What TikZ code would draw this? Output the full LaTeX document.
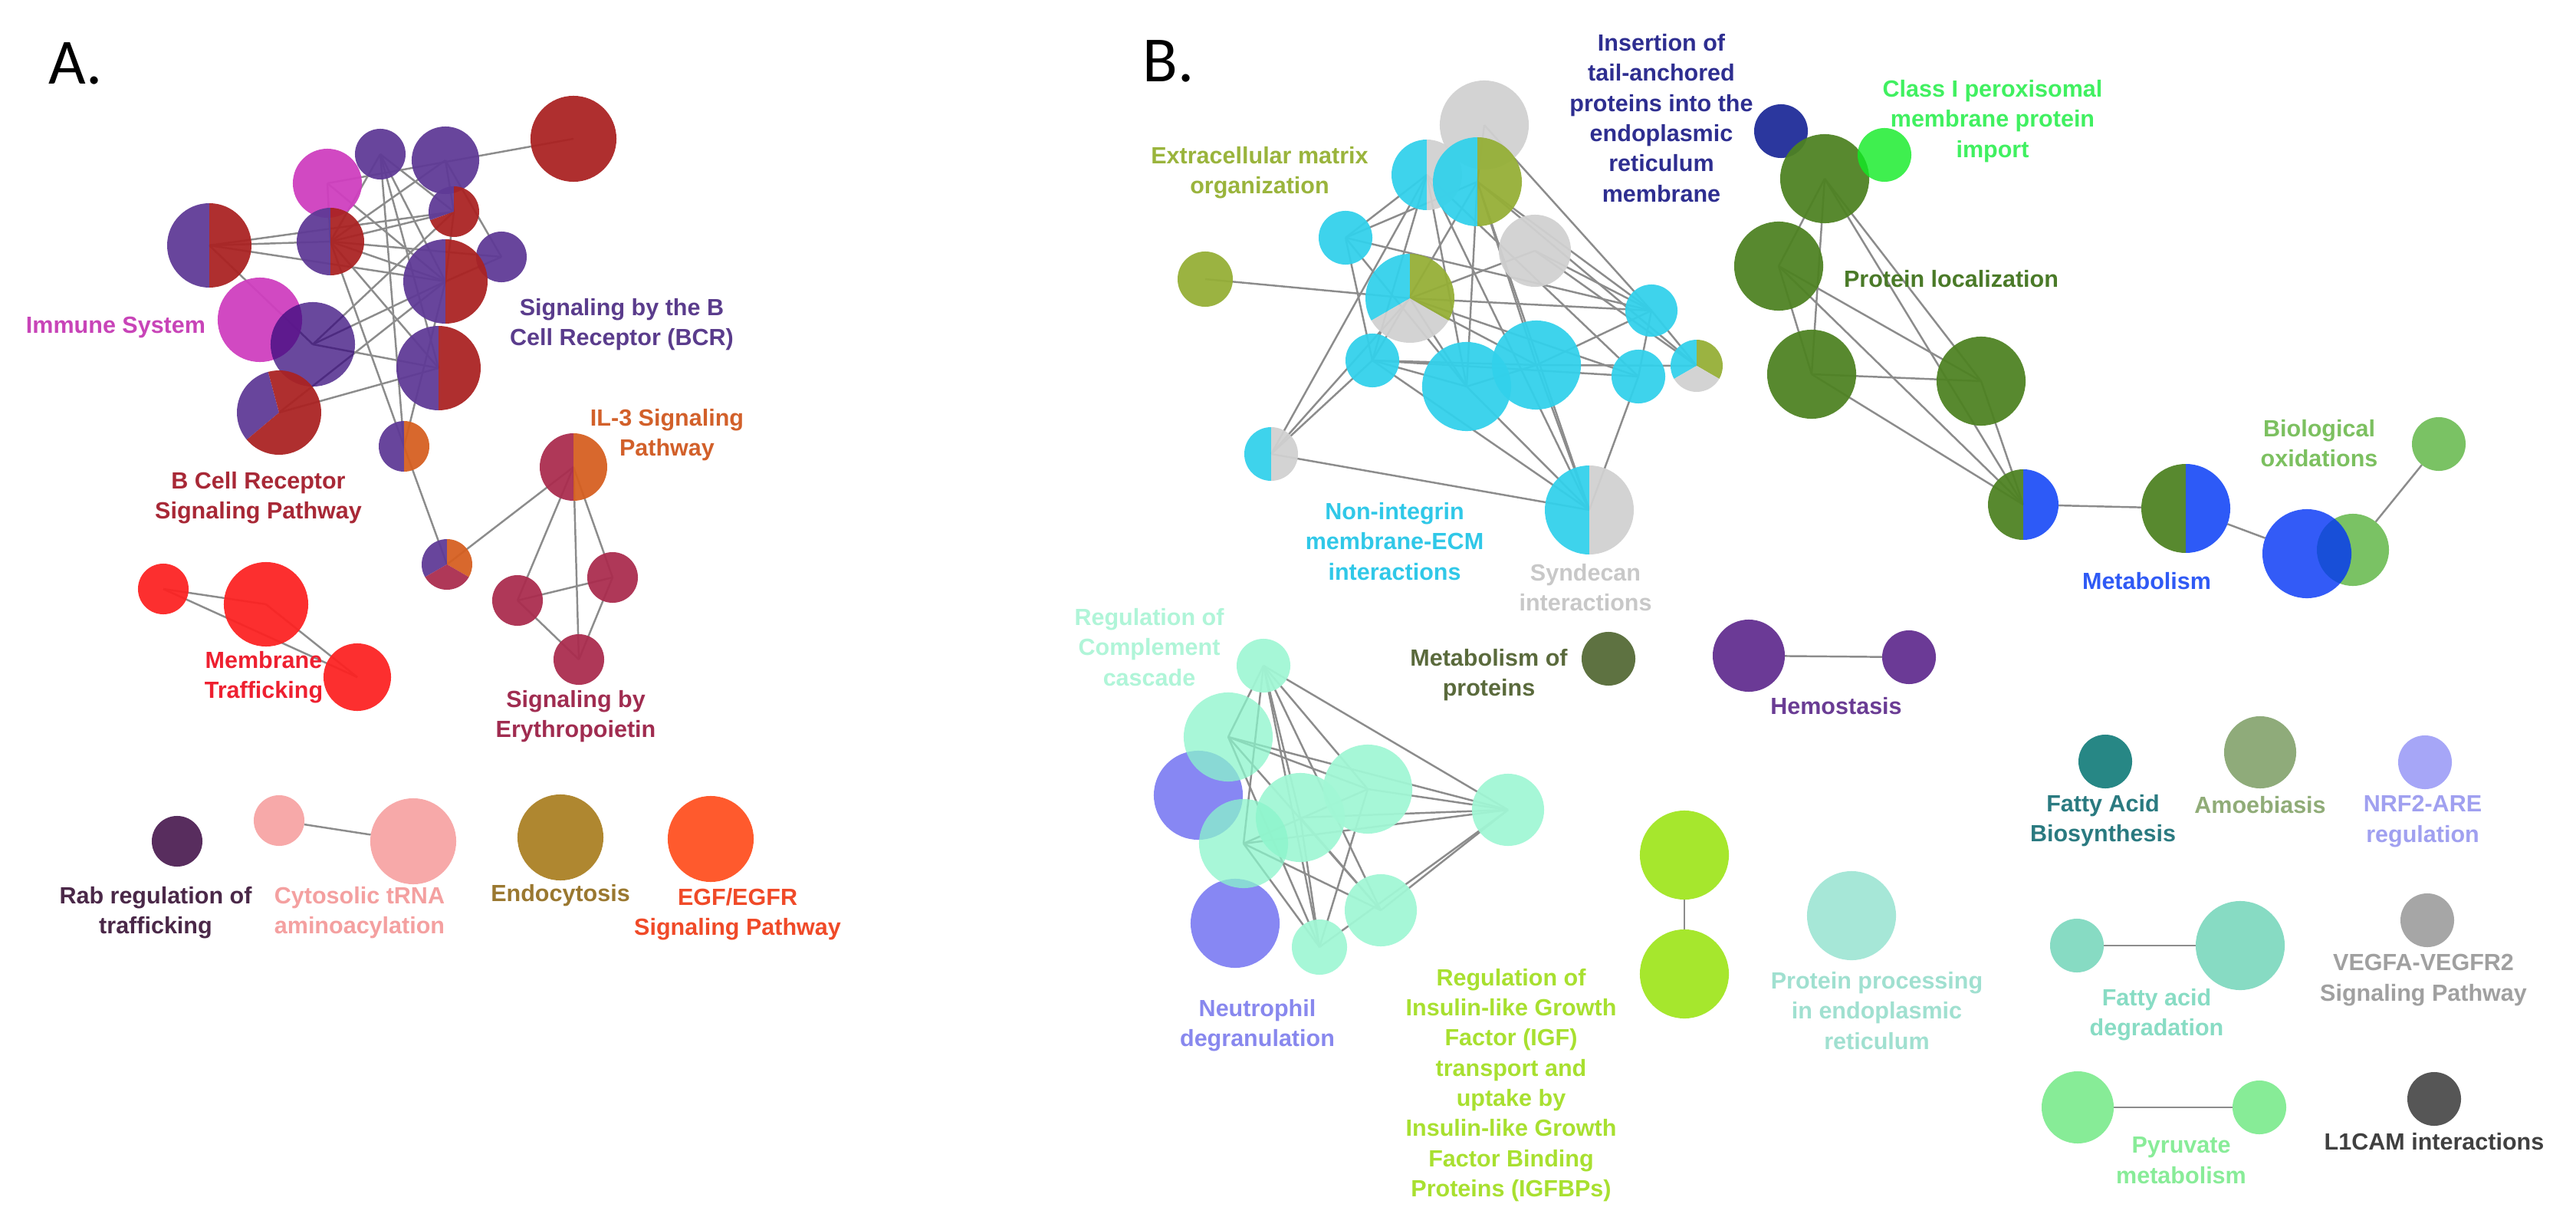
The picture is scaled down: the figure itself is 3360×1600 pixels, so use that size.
\documentclass[tikz,border=0pt]{standalone}
\usepackage{fontspec}
\setmainfont{Liberation Sans}
\newfontfamily\panelfont{Carlito}
\pgfdeclarelayer{paperlayer}
\pgfdeclarelayer{edgelayer}
\pgfsetlayers{paperlayer,edgelayer,main}
% node fills
\definecolor{cPur}{RGB}{95,58,150}
\definecolor{cPurT}{RGB}{56,11,125}
\definecolor{cRed}{RGB}{170,34,34}
\definecolor{cMag}{RGB}{207,62,191}
\definecolor{cOra}{RGB}{214,95,32}
\definecolor{cCri}{RGB}{170,44,78}
\definecolor{cBrRed}{RGB}{252,34,34}
\definecolor{cRab}{RGB}{78,32,84}
\definecolor{cPink}{RGB}{247,164,164}
\definecolor{cEndo}{RGB}{170,128,36}
\definecolor{cEgf}{RGB}{255,80,32}
\definecolor{cCyan}{RGB}{50,209,235}
\definecolor{cGray}{RGB}{209,209,209}
\definecolor{cOlive}{RGB}{149,175,54}
\definecolor{cDGreen}{RGB}{78,130,34}
\definecolor{cBlue}{RGB}{32,80,247}
\definecolor{cBlueT}{RGB}{0,51,246}
\definecolor{cDBlue}{RGB}{30,43,152}
\definecolor{cBrGreenT}{RGB}{16,236,36}
\definecolor{cLGreen}{RGB}{114,191,91}
\definecolor{cMoP}{RGB}{84,106,54}
\definecolor{cHem}{RGB}{98,46,144}
\definecolor{cMint}{RGB}{161,247,213}
\definecolor{cMintT}{RGB}{139,245,203}
\definecolor{cNeu}{RGB}{128,128,243}
\definecolor{cIgf}{RGB}{161,230,32}
\definecolor{cPP}{RGB}{161,230,213}
\definecolor{cFab}{RGB}{26,128,126}
\definecolor{cAmo}{RGB}{136,166,114}
\definecolor{cNrf}{RGB}{161,161,247}
\definecolor{cFad}{RGB}{128,217,192}
\definecolor{cVeg}{RGB}{161,161,161}
\definecolor{cPyr}{RGB}{128,235,145}
\definecolor{cL1}{RGB}{76,76,76}
\definecolor{cEdge}{RGB}{140,140,140}
% label colours
\definecolor{tImm}{RGB}{200,68,184}
\definecolor{tBcr}{RGB}{90,60,140}
\definecolor{tIl}{RGB}{210,96,42}
\definecolor{tBcrp}{RGB}{168,40,54}
\definecolor{tMem}{RGB}{238,32,48}
\definecolor{tEpo}{RGB}{160,44,80}
\definecolor{tRab}{RGB}{74,40,72}
\definecolor{tCyt}{RGB}{244,160,160}
\definecolor{tEndo}{RGB}{154,120,48}
\definecolor{tEgf}{RGB}{240,74,40}
\definecolor{tEcm}{RGB}{154,180,60}
\definecolor{tIns}{RGB}{46,46,144}
\definecolor{tCls}{RGB}{64,240,96}
\definecolor{tPL}{RGB}{74,122,40}
\definecolor{tNI}{RGB}{48,200,232}
\definecolor{tSyn}{RGB}{200,200,200}
\definecolor{tMet}{RGB}{47,90,245}
\definecolor{tBio}{RGB}{124,192,96}
\definecolor{tComp}{RGB}{176,245,216}
\definecolor{tMoP}{RGB}{90,106,60}
\definecolor{tHem}{RGB}{106,60,148}
\definecolor{tFab}{RGB}{42,122,128}
\definecolor{tAmo}{RGB}{144,172,120}
\definecolor{tNrf}{RGB}{160,160,240}
\definecolor{tNeu}{RGB}{136,136,238}
\definecolor{tIgf}{RGB}{168,224,48}
\definecolor{tPP}{RGB}{160,224,208}
\definecolor{tFad}{RGB}{136,220,196}
\definecolor{tVeg}{RGB}{160,160,160}
\definecolor{tPyr}{RGB}{136,236,152}
\definecolor{tL1}{RGB}{64,64,64}
\newcommand\lblfont{\bfseries\fontsize{8.68pt}{11.2pt}\selectfont}
\newcommand\pieslice[5]{\fill[#5,fill opacity=0.94] (#1.center) -- ++(#3:#2) arc[start angle=#3,end angle=#4,radius=#2] -- cycle;}
\tikzset{
  dot/.style 2 args={circle,inner sep=0pt,outer sep=0pt,minimum size=#1*0.02cm,fill=#2,fill opacity=0.94},
  pienode/.style={circle,inner sep=0pt,outer sep=0pt,minimum size=#1*0.02cm},
  lbl/.style={align=center,inner sep=0pt,font=\lblfont,text=#1},
  edge/.style={draw=cEdge,line width=0.7pt},
  panel/.style={anchor=base west,inner sep=0pt,font=\panelfont\fontsize{23.9pt}{28pt}\selectfont}
}
\begin{document}
\begin{tikzpicture}[x=0.01cm,y=-0.01cm]
\useasboundingbox (0,0) rectangle (3360,1600);
\begin{pgfonlayer}{paperlayer}
\fill[white] (0,0) rectangle (3360,1600);
\end{pgfonlayer}
\node[panel] (pA) at (63,110) {A.};
\node[panel] (pB) at (1490,107) {B.};
% ---------- Panel A ----------
\node[dot={45}{cMag}] (a4) at (427,239) {};
\node[dot={33}{cPur}] (a2) at (496,201) {};
\node[dot={44}{cPur}] (a3) at (581,209) {};
\node[dot={56}{cRed}] (a1) at (748,181) {};
\node[pienode=33] (a7) at (592,276) {};
\pieslice{a7}{33}{160}{270}{cPur}\pieslice{a7}{33}{270}{520}{cRed}
\node[pienode=55] (a5) at (273,320) {};
\pieslice{a5}{55}{90}{270}{cPur}\pieslice{a5}{55}{-90}{90}{cRed}
\node[pienode=44] (a6) at (431,315) {};
\pieslice{a6}{44}{90}{270}{cPur}\pieslice{a6}{44}{-90}{90}{cRed}
\node[dot={33}{cPur}] (a8) at (654,335) {};
\node[pienode=55] (a9) at (581,367) {};
\pieslice{a9}{55}{90}{270}{cPur}\pieslice{a9}{55}{-90}{90}{cRed}
\node[dot={55}{cMag}] (a10) at (339,417) {};
\node[dot={55}{cPurT},fill opacity=0.75] (a11) at (408,449) {};
\node[pienode=55] (a12) at (572,480) {};
\pieslice{a12}{55}{90}{270}{cPur}\pieslice{a12}{55}{-90}{90}{cRed}
\node[pienode=55] (a13) at (364,538) {};
\pieslice{a13}{55}{140}{255}{cPur}\pieslice{a13}{55}{255}{500}{cRed}
\node[pienode=33] (a14) at (527,582) {};
\pieslice{a14}{33}{90}{270}{cPur}\pieslice{a14}{33}{-90}{90}{cOra}
\node[pienode=44] (a15) at (748,609) {};
\pieslice{a15}{44}{90}{270}{cCri}\pieslice{a15}{44}{-90}{90}{cOra}
\node[pienode=33] (a16) at (583,736) {};
\pieslice{a16}{33}{150}{270}{cPur}\pieslice{a16}{33}{270}{390}{cOra}\pieslice{a16}{33}{30}{150}{cCri}
\node[dot={33}{cCri}] (a17) at (799,753) {};
\node[dot={33}{cCri}] (a18) at (675,783) {};
\node[dot={33}{cCri}] (a19) at (755,860) {};
\node[dot={33}{cBrRed}] (a20) at (213,768) {};
\node[dot={55}{cBrRed}] (a21) at (347,788) {};
\node[dot={44}{cBrRed}] (a22) at (466,883) {};
\node[dot={33}{cRab}] (a23) at (231,1097) {};
\node[dot={33}{cPink}] (a24) at (364,1070) {};
\node[dot={56}{cPink}] (a25) at (539,1097) {};
\node[dot={56}{cEndo}] (a26) at (731,1092) {};
\node[dot={56}{cEgf}] (a27) at (927,1094) {};
% labels A
\node[lbl=tImm] (lImm) at (151,427) {Immune System};
\node[lbl=tBcr] (lBcr) at (811,423) {Signaling by the B\\Cell Receptor (BCR)};
\node[lbl=tIl] (lIl) at (870,567) {IL-3 Signaling\\Pathway};
\node[lbl=tBcrp] (lBcrp) at (337,649) {B Cell Receptor\\Signaling Pathway};
\node[lbl=tMem] (lMem) at (344,883) {Membrane\\Trafficking};
\node[lbl=tEpo] (lEpo) at (751,934) {Signaling by\\Erythropoietin};
\node[lbl=tRab] (lRab) at (203,1190) {Rab regulation of\\trafficking};
\node[lbl=tCyt] (lCyt) at (469,1190) {Cytosolic tRNA\\aminoacylation};
\node[lbl=tEndo] (lEndo) at (731,1168) {Endocytosis};
\node[lbl=tEgf] (lEgf) at (962,1192) {EGF/EGFR\\Signaling Pathway};
% ---------- Panel B: ECM cluster ----------
\node[dot={58}{cGray}] (b1) at (1936,163) {};
\node[pienode=46] (b2) at (1861,228) {};
\pieslice{b2}{46}{90}{270}{cCyan}\pieslice{b2}{46}{-90}{90}{cGray}
\node[pienode=58] (b3) at (1927,237) {};
\pieslice{b3}{58}{90}{270}{cCyan}\pieslice{b3}{58}{-90}{90}{cOlive}
\node[dot={47}{cGray}] (b4) at (2002,327) {};
\node[dot={35}{cCyan}] (b5) at (1755,310) {};
\node[dot={36}{cOlive}] (b6) at (1572,364) {};
\node[pienode=58] (b7) at (1839,389) {};
\pieslice{b7}{58}{150}{270}{cCyan}\pieslice{b7}{58}{270}{390}{cOlive}\pieslice{b7}{58}{30}{150}{cGray}
\node[dot={34}{cCyan}] (b8) at (2154,405) {};
\node[dot={35}{cCyan}] (b9) at (1790,470) {};
\node[dot={58}{cCyan}] (b10) at (1913,504) {};
\node[dot={58}{cCyan}] (b11) at (2004,476) {};
\node[dot={35}{cCyan}] (b12) at (2137,491) {};
\node[pienode=34] (b13) at (2213,477) {};
\pieslice{b13}{34}{150}{270}{cCyan}\pieslice{b13}{34}{270}{390}{cOlive}\pieslice{b13}{34}{30}{150}{cGray}
\node[pienode=35] (b14) at (1658,592) {};
\pieslice{b14}{35}{90}{270}{cCyan}\pieslice{b14}{35}{-90}{90}{cGray}
\node[pienode=58] (b15) at (2073,665) {};
\pieslice{b15}{58}{90}{270}{cCyan}\pieslice{b15}{58}{-90}{90}{cGray}
% ---------- Panel B: protein localisation / metabolism ----------
\node[dot={35}{cDBlue}] (gdb) at (2323,171) {};
\node[dot={58}{cDGreen}] (g1) at (2380,233) {};
\node[dot={35}{cBrGreenT},fill opacity=0.8] (gbg) at (2458,202) {};
\node[dot={58}{cDGreen}] (g2) at (2320,347) {};
\node[dot={58}{cDGreen}] (g3) at (2363,488) {};
\node[dot={58}{cDGreen}] (g4) at (2584,497) {};
\node[pienode=46] (g5) at (2639,658) {};
\pieslice{g5}{46}{90}{270}{cDGreen}\pieslice{g5}{46}{-90}{90}{cBlue}
\node[pienode=58] (g6) at (2851,663) {};
\pieslice{g6}{58}{90}{270}{cDGreen}\pieslice{g6}{58}{-90}{90}{cBlue}
\node[dot={47}{cLGreen}] (g8) at (3069,717) {};
\node[dot={58}{cBlueT},fill opacity=0.8] (g7) at (3009,722) {};
\node[dot={35}{cLGreen}] (g9) at (3181,579) {};
% ---------- Panel B: others ----------
\node[dot={35}{cMoP}] (m1) at (2098,859) {};
\node[dot={47}{cHem}] (h1) at (2281,855) {};
\node[dot={35}{cHem}] (h2) at (2490,857) {};
\node[dot={58}{cNeu}] (cn1) at (1563,1037) {};
\node[dot={58}{cNeu}] (cn2) at (1611,1204) {};
\node[dot={35}{cMint}] (c1) at (1648,868) {};
\node[dot={58}{cMintT},fill opacity=0.75] (c2) at (1602,961) {};
\node[dot={58}{cMint}] (c3) at (1784,1029) {};
\node[dot={58}{cMint}] (c4) at (1696,1066) {};
\node[dot={58}{cMintT},fill opacity=0.75] (c5) at (1622,1100) {};
\node[dot={47}{cMint}] (c6) at (1967,1056) {};
\node[dot={47}{cMint}] (c7) at (1801,1187) {};
\node[dot={36}{cMint}] (c8) at (1721,1235) {};
\node[dot={58}{cIgf}] (i1) at (2197,1115) {};
\node[dot={58}{cIgf}] (i2) at (2197,1270) {};
\node[dot={58}{cPP}] (pp) at (2415,1194) {};
\node[dot={35}{cFab}] (fab) at (2746,993) {};
\node[dot={47}{cAmo}] (amo) at (2948,981) {};
\node[dot={35}{cNrf}] (nrf) at (3163,994) {};
\node[dot={35}{cFad}] (fd1) at (2709,1233) {};
\node[dot={58}{cFad}] (fd2) at (2922,1233) {};
\node[dot={35}{cVeg}] (veg) at (3166,1200) {};
\node[dot={47}{cPyr}] (py1) at (2710,1444) {};
\node[dot={35}{cPyr}] (py2) at (2947,1444) {};
\node[dot={35}{cL1}] (l1) at (3175,1433) {};
% labels B
\node[lbl=tEcm] (lEcm) at (1643,225) {Extracellular matrix\\organization};
\node[lbl=tIns] (lIns) at (2167,154) {Insertion of\\tail-anchored\\proteins into the\\endoplasmic\\reticulum\\membrane};
\node[lbl=tCls] (lCls) at (2599,158) {Class I peroxisomal\\membrane protein\\import};
\node[lbl=tPL] (lPL) at (2545,364) {Protein localization};
\node[lbl=tNI] (lNI) at (1819,706) {Non-integrin\\membrane-ECM\\interactions};
\node[lbl=tSyn] (lSyn) at (2068,766) {Syndecan\\interactions};
\node[lbl=tMet] (lMet) at (2800,758) {Metabolism};
\node[lbl=tBio] (lBio) at (3025,578) {Biological\\oxidations};
\node[lbl=tComp] (lComp) at (1499,844) {Regulation of\\Complement\\cascade};
\node[lbl=tMoP] (lMoP) at (1942,880) {Metabolism of\\proteins};
\node[lbl=tHem] (lHem) at (2395,921) {Hemostasis};
\node[lbl=tFab] (lFab) at (2743,1070) {Fatty Acid\\Biosynthesis};
\node[lbl=tAmo] (lAmo) at (2948,1050) {Amoebiasis};
\node[lbl=tNrf] (lNrf) at (3160,1071) {NRF2-ARE\\regulation};
\node[lbl=tNeu] (lNeu) at (1640,1337) {Neutrophil\\degranulation};
\node[lbl=tIgf] (lIgf) at (1971,1415) {Regulation of\\Insulin-like Growth\\Factor (IGF)\\transport and\\uptake by\\Insulin-like Growth\\Factor Binding\\Proteins (IGFBPs)};
\node[lbl=tPP] (lPP) at (2448,1318) {Protein processing\\in endoplasmic\\reticulum};
\node[lbl=tFad] (lFad) at (2813,1323) {Fatty acid\\degradation};
\node[lbl=tVeg] (lVeg) at (3161,1278) {VEGFA-VEGFR2\\Signaling Pathway};
\node[lbl=tPyr] (lPyr) at (2845,1513) {Pyruvate\\metabolism};
\node[lbl=tL1] (lL1) at (3175,1489) {L1CAM interactions};
% ---------- edges ----------
\begin{pgfonlayer}{edgelayer}
\foreach \u/\v in {a1/a4,a5/a6,a5/a7,a5/a9,a5/a11,a6/a2,a6/a3,a6/a9,a6/a12,a6/a8,a6/a7,
  a2/a9,a2/a12,a2/a7,a3/a7,a3/a8,a4/a6,a4/a9,a11/a9,a11/a12,a11/a7,a13/a12,a13/a9,
  a8/a9,a7/a9,a14/a6,a14/a2,a14/a9,a14/a16,a16/a15,a15/a18,a15/a17,a15/a19,a18/a17,a18/a19,a17/a19,
  a20/a21,a20/a22,a21/a22,
  b6/b7,b5/b2,b5/b3,b5/b8,b5/b9,b5/b10,b2/b9,b2/b14,b2/b15,b2/b10,b2/b12,b3/b8,b3/b13,b3/b15,
  b3/b10,b3/b11,b3/b9,b4/b8,b4/b13,b4/b7,b7/b8,b7/b10,b7/b11,b7/b12,b7/b14,b9/b10,b9/b11,b9/b12,
  b9/b15,b10/b11,b10/b15,b11/b15,b12/b15,b11/b8,b11/b13,b12/b8,b8/b13,b14/b15,b14/b9,b1/b3,b1/b8,
  g1/g2,g1/g3,g1/g4,g1/g5,g2/g3,g2/g4,g2/g5,g3/g4,g3/g5,g4/g5,
  c1/c2,c1/c3,c1/c4,c1/c5,c1/c7,c1/c8,c1/c6,c2/c3,c2/c6,c2/c7,c2/c8,c4/c6,c3/c6,c5/c6,c6/c7,
  c6/c8,c5/c7,c4/c8,c5/c8,c3/c8,c4/c7,c3/c5}
  \draw[edge] (\u.center) -- (\v.center);
\foreach \u/\v in {a24/a25,g5/g6,g6/g7,g8/g9,h1/h2,i1/i2,fd1/fd2,py1/py2}
  \draw[edge] (\u) -- (\v);
\end{pgfonlayer}
\end{tikzpicture}
\end{document}
